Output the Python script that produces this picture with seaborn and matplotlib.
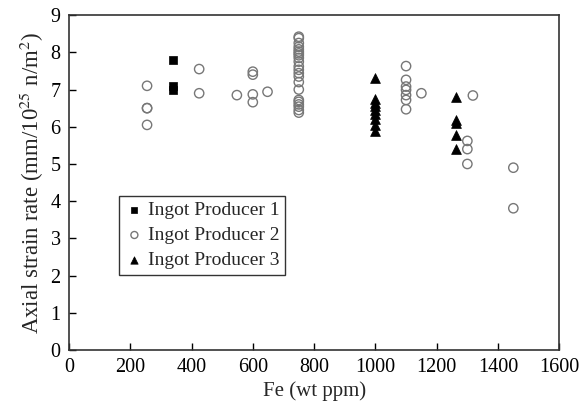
import pandas as pd
import seaborn as sns
import matplotlib.pyplot as plt

# Dados
fe_p1 = [340, 340, 340]
rate_p1 = [7.8, 7.1, 7.0]

fe_p2 = [255, 255, 255, 255,
         425, 425,
         548,
         600, 600, 600, 600,
         648,
         750, 750, 750, 750, 750, 750, 750, 750, 750, 750, 750, 750, 750, 750,
         750, 750, 750, 750, 750, 750, 750, 750,
         1100, 1100, 1100, 1100, 1100, 1100, 1100,
         1150,
         1300, 1300, 1300,
         1318,
         1450, 1450]
rate_p2 = [7.1, 6.5, 6.5, 6.05,
           7.55, 6.9,
           6.85,
           7.48, 7.4, 6.87, 6.66,
           6.94,
           8.42, 8.38, 8.15, 8.08, 8.02, 7.97, 7.92, 7.75, 7.62, 7.53, 7.44, 7.35, 7.2, 7.0,
           6.72, 6.67, 6.54, 6.45, 6.38, 8.25, 7.85, 6.6,
           7.63, 7.26, 7.08, 6.99, 6.85, 6.72, 6.47,
           6.9,
           5.62, 5.4, 5.0,
           6.84,
           4.9, 3.81]

fe_p3 = [1000, 1000, 1000, 1000, 1000, 1000, 1000, 1000, 1000,
         1262, 1262, 1262, 1262, 1262]
rate_p3 = [7.3, 6.75, 6.65, 6.55, 6.45, 6.35, 6.2, 6.05, 5.88,
           6.79, 6.18, 6.09, 5.78, 5.4]

df1 = pd.DataFrame({'Fe': fe_p1, 'rate': rate_p1})
df2 = pd.DataFrame({'Fe': fe_p2, 'rate': rate_p2})
df3 = pd.DataFrame({'Fe': fe_p3, 'rate': rate_p3})

sns.set_style('ticks')
plt.rcParams['font.family'] = ['Liberation Serif', 'DejaVu Serif']
plt.rcParams['mathtext.fontset'] = 'stix'

fig = plt.figure(figsize=(5.79, 4.08), dpi=100)
ax = fig.add_axes([0.119, 0.142, 0.847, 0.821])

sns.scatterplot(data=df1, x='Fe', y='rate', marker='s', s=40, color='black',
                edgecolor='black', linewidth=0.5, label='Ingot Producer 1', ax=ax)
sns.scatterplot(data=df2, x='Fe', y='rate', marker='o', s=45, facecolor='none',
                edgecolor='#777777', linewidth=1.0, label='Ingot Producer 2', ax=ax)
sns.scatterplot(data=df3, x='Fe', y='rate', marker='^', s=50, color='black',
                edgecolor='black', linewidth=0.5, label='Ingot Producer 3', ax=ax)

ax.set_xlim(0, 1600)
ax.set_ylim(0, 9)
ax.set_xticks(range(0, 1601, 200))
ax.set_yticks(range(0, 10))
ax.tick_params(direction='in', length=5, width=1, labelsize=14.5, colors='black', pad=6)
for sp in ax.spines.values():
    sp.set_linewidth(1.2)
    sp.set_color('#333333')

ax.set_xlabel('Fe (wt ppm)', fontsize=15, labelpad=3)
ax.set_ylabel(r'Axial strain rate (mm/10$^{25}$ n/m$^{2}$)', fontsize=16.5, labelpad=3)

leg = ax.legend(loc='upper left', bbox_to_anchor=(0.082, 0.49), fontsize=14,
                frameon=True, fancybox=False, edgecolor='black',
                handletextpad=0.2, borderpad=0.3, labelspacing=0.38,
                handlelength=1.0, markerscale=0.75)
leg.get_frame().set_linewidth(1.0)

plt.savefig('out.png', dpi=100)
